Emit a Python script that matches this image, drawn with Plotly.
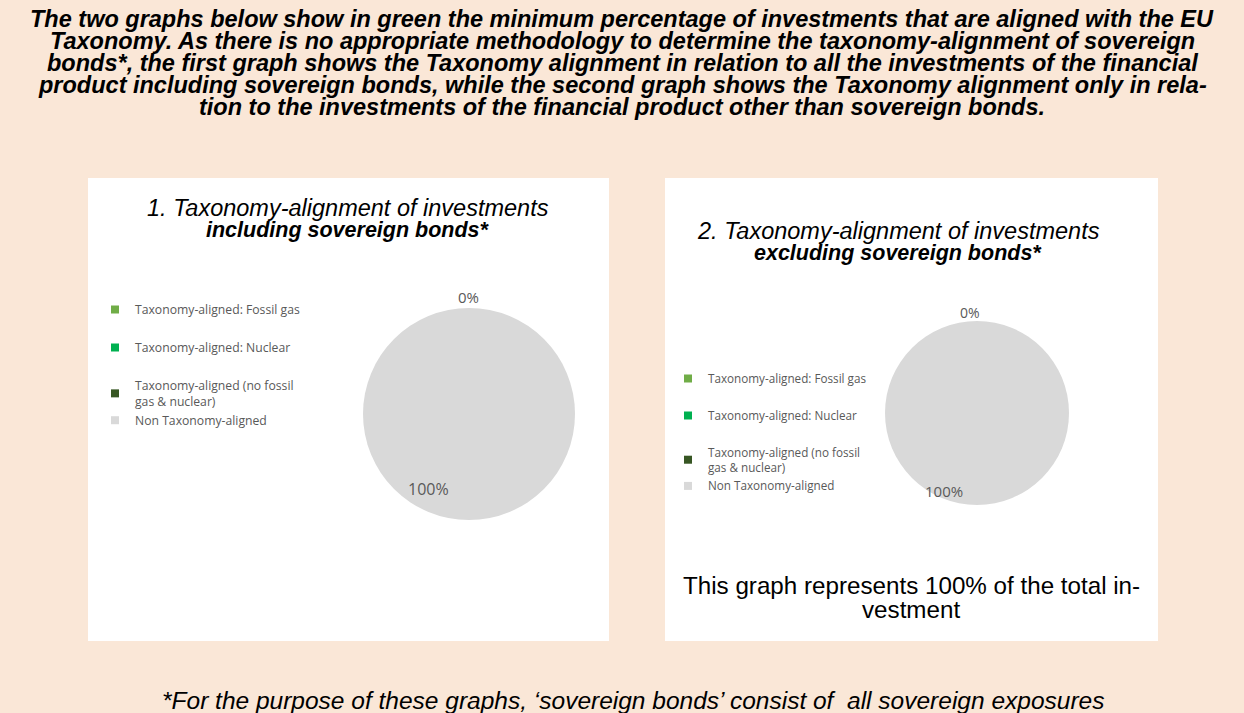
import plotly.graph_objects as go

W, H = 1244, 713

# --- data -------------------------------------------------------------
categories = [
    "Taxonomy-aligned: Fossil gas",
    "Taxonomy-aligned: Nuclear",
    "Taxonomy-aligned (no fossil gas & nuclear)",
    "Non Taxonomy-aligned",
]
legend_labels = [
    "Taxonomy-aligned: Fossil gas",
    "Taxonomy-aligned: Nuclear",
    "Taxonomy-aligned (no fossil<br>gas & nuclear)",
    "Non Taxonomy-aligned",
]
# legend group of each entry (the last two sit closer together)
legend_groups = [0, 1, 2, 2]
incl_sovereign_values = [0, 0, 0, 100]
excl_sovereign_values = [0, 0, 0, 100]
slice_colors = ["#70AD47", "#00B050", "#375623", "#D9D9D9"]

heading_lines = [
    "The two graphs below show in green the minimum percentage of investments that are aligned with the EU",
    "Taxonomy. As there is no appropriate methodology to determine the taxonomy-alignment of sovereign",
    "bonds*, the first graph shows the Taxonomy alignment in relation to all the investments of the financial",
    "product including sovereign bonds, while the second graph shows the Taxonomy alignment only in rela-",
    "tion to the investments of the financial product other than sovereign bonds.",
]
chart1_title = ["1. Taxonomy-alignment of investments", "including sovereign bonds*"]
chart2_title = ["2. Taxonomy-alignment of investments", "excluding sovereign bonds*"]
chart2_note = ["This graph represents 100% of the total in-", "vestment"]
footnote = "*For the purpose of these graphs, \u2018sovereign bonds\u2019 consist of  all sovereign exposures"

PEACH = "#FAE7D7"
TEXT_GREY = "#595959"


def px(x):
    return x / W


def py(y):
    return 1 - y / H


def pct_labels(values):
    total = sum(values)
    aligned = sum(values[:3]) / total * 100
    other = values[3] / total * 100
    return f"{aligned:.0f}%", f"{other:.0f}%"


fig = go.Figure()

# pies
pie_specs = [
    (incl_sovereign_values, (363, 575), (308, 520)),
    (excl_sovereign_values, (885, 1069), (321, 505)),
]
for vals, (x0, x1), (y0, y1) in pie_specs:
    fig.add_trace(go.Pie(
        labels=categories,
        values=vals,
        marker=dict(colors=slice_colors, line=dict(width=0)),
        sort=False,
        direction="clockwise",
        rotation=0,
        textinfo="none",
        hoverinfo="skip",
        showlegend=False,
        domain=dict(x=[px(x0), px(x1)], y=[py(y1), py(y0)]),
    ))

# legend entries
for leg_name, prefix in (("legend", "a"), ("legend2", "b")):
    for lab, col, grp in zip(legend_labels, slice_colors, legend_groups):
        fig.add_trace(go.Scatter(
            x=[None], y=[None], mode="markers",
            marker=dict(symbol="square", size=8, color=col),
            name=lab, legendgroup=f"{prefix}{grp}", legend=leg_name,
            hoverinfo="skip",
        ))

shapes = [
    dict(type="rect", xref="paper", yref="paper", layer="below",
         x0=px(88), x1=px(609), y0=py(641), y1=py(178),
         fillcolor="white", line=dict(width=0)),
    dict(type="rect", xref="paper", yref="paper", layer="below",
         x0=px(665), x1=px(1158), y0=py(641), y1=py(178),
         fillcolor="white", line=dict(width=0)),
]

annotations = []


def add_text(text, x, y, size, color="black", style="normal", weight="normal",
             family="Liberation Sans"):
    annotations.append(dict(
        text=text, x=px(x), y=py(y), xref="paper", yref="paper",
        xanchor="center", yanchor="middle", showarrow=False,
        font=dict(family=family, size=size, color=color, style=style, weight=weight),
    ))


for i, line in enumerate(heading_lines):
    add_text(line, 622, 19 + 22 * i, 23.5, style="italic", weight="bold")

add_text(chart1_title[0], 348, 208, 23.5, style="italic")
add_text(chart1_title[1], 348, 230, 21.5, style="italic", weight="bold")
add_text(chart2_title[0], 898, 231, 23.5, style="italic")
add_text(chart2_title[1], 898, 253, 21.5, style="italic", weight="bold")
add_text(chart2_note[0], 911, 585, 24.2)
add_text(chart2_note[1], 911, 609, 24.2)
add_text(footnote, 633, 700, 24.5, style="italic")

# slice value labels
for vals, top_xy, full_xy, size in (
    (incl_sovereign_values, (468, 297), (428, 489), 15),
    (excl_sovereign_values, (970, 312), (944, 491), 14),
):
    aligned_txt, other_txt = pct_labels(vals)
    add_text(aligned_txt, *top_xy, size, color=TEXT_GREY, family="Open Sans")
    add_text(other_txt, *full_xy, size + 1, color=TEXT_GREY, family="Open Sans")

legend_common = dict(
    xanchor="left", yanchor="top", bgcolor="rgba(0,0,0,0)",
    itemwidth=30, borderwidth=0,
)
fig.update_layout(
    width=W, height=H,
    margin=dict(l=0, r=0, t=0, b=0),
    paper_bgcolor=PEACH,
    plot_bgcolor="rgba(0,0,0,0)",
    xaxis=dict(visible=False),
    yaxis=dict(visible=False),
    shapes=shapes,
    annotations=annotations,
    legend=dict(x=px(95), y=py(295), tracegroupgap=19,
                font=dict(family="Open Sans", size=12.2, color=TEXT_GREY),
                **legend_common),
    legend2=dict(x=px(668), y=py(364), tracegroupgap=18,
                 font=dict(family="Open Sans", size=11.7, color=TEXT_GREY),
                 **legend_common),
)

fig.write_html("out.html")
